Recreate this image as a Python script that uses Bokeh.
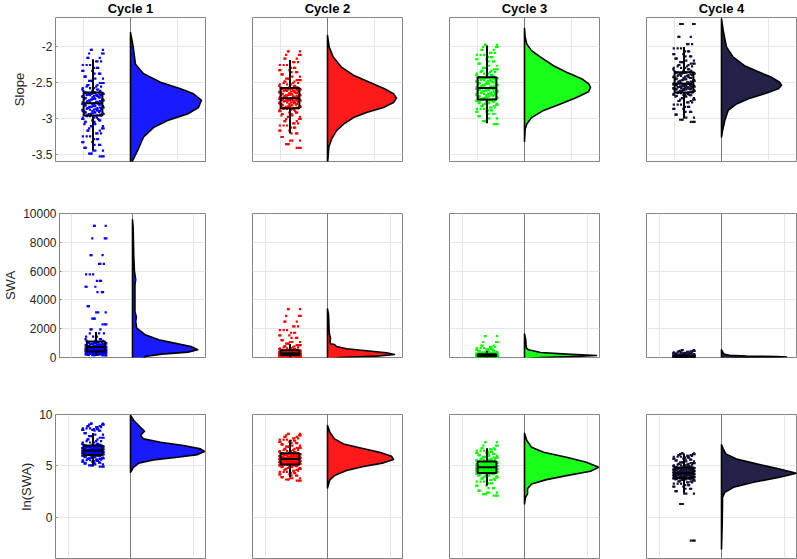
import numpy as np
from bokeh.plotting import figure
from bokeh.layouts import column, row
from bokeh.models import Range1d, FixedTicker, Grid, Span, LinearAxis, NumeralTickFormatter
from bokeh.core.properties import value
from bokeh.embed import file_html
from bokeh.resources import INLINE

# ---------------- data ----------------
CYCLES = ["Cycle 1", "Cycle 2", "Cycle 3", "Cycle 4"]
ROW_LABELS = ["Slope", "SWA", "ln(SWA)"]

SCATTER_COLORS = ["#0000ff", "#ff0000", "#00ff00", "#121238"]
FILL_COLORS = ["#1a1aff", "#ff1a1a", "#1aff1a", "#222249"]

# Y ticks per row
SLOPE_TICKS = [-3.5, -3, -2.5, -2]
SWA_TICKS = [0, 2000, 4000, 6000, 8000, 10000]
LN_TICKS = [0, 5, 10]

# Individual observations: spectral slope per cycle
SLOPE_C1 = [-3.53, -3.49, -3.45, -3.41, -3.37, -3.33, -3.29, -3.25, -3.21, -3.17, -3.14, -3.11, -3.08, -3.05, -3.03, -3.01, -2.99, -2.97,
            -2.96, -2.95, -2.94, -2.93, -2.92, -2.91, -2.90, -2.89, -2.88, -2.87, -2.86, -2.85, -2.84, -2.83, -2.82, -2.81, -2.80, -2.79,
            -2.78, -2.77, -2.76, -2.75, -2.74, -2.73, -2.72, -2.71, -2.70, -2.69, -2.68, -2.675, -2.67, -2.66, -2.655, -2.65, -2.64,
            -2.62, -2.60, -2.58, -2.56, -2.54, -2.51, -2.48, -2.45, -2.42, -2.38, -2.34, -2.30, -2.26, -2.21, -2.16, -2.10, -2.05]
SLOPE_C2 = [-3.41, -3.36, -3.31, -3.26, -3.21, -3.17, -3.13, -3.10, -3.07, -3.04, -3.01, -2.98, -2.96, -2.94, -2.92, -2.90, -2.88, -2.87,
            -2.86, -2.85, -2.84, -2.83, -2.82, -2.81, -2.80, -2.79, -2.78, -2.77, -2.76, -2.755, -2.75, -2.745, -2.74, -2.735, -2.73, -2.72,
            -2.71, -2.70, -2.69, -2.68, -2.675, -2.67, -2.66, -2.65, -2.64, -2.63, -2.62, -2.615, -2.61, -2.60, -2.595, -2.59, -2.58,
            -2.57, -2.55, -2.53, -2.51, -2.49, -2.47, -2.45, -2.42, -2.39, -2.36, -2.33, -2.30, -2.26, -2.22, -2.17, -2.12, -2.07]
SLOPE_C3 = [-3.08, -3.04, -3.00, -2.97, -2.94, -2.91, -2.89, -2.87, -2.85, -2.83, -2.81, -2.80, -2.79, -2.78, -2.77, -2.76, -2.75, -2.745,
            -2.74, -2.73, -2.72, -2.71, -2.70, -2.69, -2.68, -2.67, -2.66, -2.65, -2.64, -2.63, -2.62, -2.61, -2.605, -2.60, -2.59, -2.58,
            -2.57, -2.56, -2.55, -2.54, -2.53, -2.52, -2.51, -2.50, -2.49, -2.48, -2.47, -2.46, -2.45, -2.445, -2.44, -2.435, -2.43,
            -2.42, -2.40, -2.38, -2.36, -2.34, -2.32, -2.30, -2.27, -2.24, -2.21, -2.18, -2.15, -2.12, -2.09, -2.05, -2.01, -1.98]
SLOPE_C4 = [-3.05, -3.02, -2.99, -2.95, -2.91, -2.87, -2.84, -2.81, -2.78, -2.76, -2.74, -2.72, -2.70, -2.69, -2.68, -2.67, -2.66, -2.65,
            -2.64, -2.63, -2.62, -2.61, -2.60, -2.595, -2.59, -2.585, -2.58, -2.57, -2.565, -2.56, -2.555, -2.55, -2.54, -2.535, -2.53, -2.52,
            -2.51, -2.50, -2.49, -2.48, -2.47, -2.46, -2.45, -2.44, -2.43, -2.42, -2.41, -2.40, -2.39, -2.38, -2.37, -2.365, -2.36,
            -2.34, -2.32, -2.30, -2.28, -2.26, -2.24, -2.22, -2.20, -2.17, -2.14, -2.11, -2.07, -2.03, -1.97, -1.87, -1.69, -1.69]

# Individual observations: ln(SWA) per cycle (SWA row = exp of these)
LNSWA_C1 = [4.94, 5.05, 5.15, 5.25, 5.33, 5.41, 5.48, 5.55, 5.62, 5.68, 5.74, 5.80, 5.85, 5.90, 5.95, 5.99, 6.03, 6.06,
            6.08, 6.10, 6.13, 6.15, 6.18, 6.20, 6.23, 6.25, 6.28, 6.30, 6.33, 6.35, 6.38, 6.40, 6.42, 6.44, 6.46, 6.49,
            6.52, 6.55, 6.57, 6.60, 6.62, 6.65, 6.68, 6.70, 6.73, 6.76, 6.79, 6.82, 6.85, 6.88, 6.91, 6.94, 6.97,
            7.05, 7.15, 7.28, 7.42, 7.58, 7.74, 7.90, 8.05, 8.18, 8.42, 8.50, 8.58, 8.66, 8.78, 8.87, 9.02, 9.12]
LNSWA_C2 = [3.57, 3.68, 3.80, 3.92, 4.05, 4.18, 4.30, 4.42, 4.53, 4.63, 4.72, 4.80, 4.87, 4.93, 4.99, 5.04, 5.08, 5.12,
            5.15, 5.18, 5.21, 5.24, 5.27, 5.30, 5.33, 5.36, 5.39, 5.42, 5.45, 5.48, 5.51, 5.54, 5.57, 5.60, 5.63, 5.66,
            5.70, 5.73, 5.76, 5.79, 5.82, 5.85, 5.88, 5.91, 5.94, 5.97, 6.00, 6.04, 6.08, 6.12, 6.16, 6.19, 6.22,
            6.28, 6.36, 6.45, 6.55, 6.65, 6.76, 6.87, 6.98, 7.10, 7.22, 7.34, 7.45, 7.55, 7.68, 7.82, 7.97, 8.12]
LNSWA_C3 = [2.11, 2.25, 2.40, 2.60, 2.85, 3.09, 3.30, 3.48, 3.63, 3.76, 3.88, 3.98, 4.06, 4.13, 4.19, 4.24, 4.28, 4.31,
            4.34, 4.37, 4.40, 4.43, 4.46, 4.49, 4.52, 4.55, 4.58, 4.61, 4.64, 4.67, 4.70, 4.73, 4.76, 4.79, 4.82, 4.85,
            4.89, 4.92, 4.95, 4.98, 5.01, 5.04, 5.07, 5.10, 5.13, 5.16, 5.19, 5.22, 5.25, 5.29, 5.33, 5.37, 5.41,
            5.46, 5.52, 5.58, 5.65, 5.72, 5.80, 5.88, 5.97, 6.06, 6.16, 6.26, 6.37, 6.48, 6.60, 6.72, 6.98, 7.30]
LNSWA_C4 = [-2.27, 1.30, 2.30, 2.55, 2.78, 2.98, 3.14, 3.28, 3.40, 3.50, 3.58, 3.64, 3.69, 3.73, 3.76, 3.79, 3.81, 3.83,
            3.86, 3.89, 3.92, 3.95, 3.98, 4.01, 4.04, 4.07, 4.10, 4.13, 4.16, 4.19, 4.22, 4.25, 4.28, 4.31, 4.34, 4.37,
            4.40, 4.43, 4.46, 4.49, 4.52, 4.55, 4.58, 4.61, 4.64, 4.67, 4.70, 4.73, 4.76, 4.79, 4.82, 4.85, 4.88,
            4.93, 4.99, 5.05, 5.12, 5.19, 5.27, 5.35, 5.44, 5.53, 5.62, 5.71, 5.80, 5.89, 5.97, 6.05, 6.14, 6.23]

# Box statistics [lower whisker, Q1, median, Q3, upper whisker]
SLOPE_BOX = [[-3.44, -2.96, -2.79, -2.64, -2.18], [-3.21, -2.86, -2.72, -2.58, -2.19],
             [-3.07, -2.74, -2.58, -2.43, -1.99], [-2.99, -2.64, -2.52, -2.36, -2.01]]
SWA_BOX = [[140, 418, 724, 1113, 1768], [35, 169, 293, 508, 930],
           [8, 75, 130, 226, 450], [10, 45, 74, 128, 250]]
LN_BOX = [[4.94, 6.07, 6.50, 6.98, 8.18], [3.90, 5.13, 5.68, 6.23, 7.54],
          [3.09, 4.32, 4.87, 5.42, 6.72], [2.40, 3.80, 4.30, 4.85, 6.20]]

# Density curves (value grid, density)
SLOPE_DEN_Y = [[-1.81, -2.01, -2.25, -2.38, -2.50, -2.59, -2.66, -2.75, -2.85, -2.94, -3.03, -3.13, -3.26, -3.45, -3.59, -3.75],
               [-1.85, -2.01, -2.15, -2.29, -2.41, -2.50, -2.59, -2.66, -2.72, -2.78, -2.85, -2.92, -2.99, -3.08, -3.17, -3.29, -3.40, -3.59, -3.70],
               [-1.75, -1.87, -1.97, -2.06, -2.15, -2.27, -2.36, -2.45, -2.52, -2.57, -2.63, -2.71, -2.80, -2.89, -2.99, -3.08, -3.15, -3.32],
               [-1.62, -1.78, -2.01, -2.15, -2.27, -2.36, -2.43, -2.50, -2.54, -2.59, -2.66, -2.73, -2.80, -2.89, -3.03, -3.17, -3.26]]
SLOPE_DEN = [[0, 0.029, 0.053, 0.139, 0.32, 0.533, 0.672, 0.757, 0.725, 0.608, 0.395, 0.245, 0.139, 0.075, 0.021, 0],
             [0, 0.018, 0.061, 0.149, 0.288, 0.448, 0.608, 0.704, 0.736, 0.704, 0.597, 0.416, 0.277, 0.171, 0.096, 0.043, 0.014, 0.003, 0],
             [0, 0.007, 0.025, 0.075, 0.171, 0.309, 0.448, 0.608, 0.683, 0.704, 0.683, 0.555, 0.384, 0.203, 0.075, 0.025, 0.007, 0],
             [0, 0.018, 0.053, 0.125, 0.245, 0.405, 0.533, 0.619, 0.64, 0.608, 0.459, 0.288, 0.16, 0.071, 0.035, 0.011, 0]]
SWA_DEN_Y = [[-400, -150, 0, 70, 235, 375, 535, 765, 1000, 1230, 1580, 2045, 2500, 2800, 3200, 4000, 5000, 5400, 6000, 7000, 8000, 9000, 9570],
             [-150, 0, 97, 209, 327, 466, 605, 765, 900, 960, 1100, 1350, 1600, 2000, 2500, 3000, 3370],
             [-100, 0, 70, 140, 235, 350, 535, 655, 900, 1200, 1630],
             [-60, 0, 30, 60, 100, 150, 235, 400, 535]]
SWA_DEN = [[0, 0.128, 0.208, 0.208, 0.48, 0.912, 1.072, 0.96, 0.688, 0.432, 0.208, 0.069, 0.053, 0.064, 0.04, 0.04, 0.04, 0.053, 0.032, 0.021, 0.016, 0.011, 0],
           [0, 0.192, 0.784, 1.072, 0.944, 0.624, 0.304, 0.144, 0.112, 0.048, 0.04, 0.048, 0.032, 0.024, 0.021, 0.016, 0],
           [0, 0.256, 0.8, 1.152, 0.672, 0.256, 0.064, 0.032, 0.024, 0.021, 0],
           [0, 0.64, 1.04, 0.88, 0.4, 0.128, 0.04, 0.016, 0]]
LN_DEN_Y = [[4.38, 4.87, 5.26, 5.59, 5.84, 6.10, 6.40, 6.66, 6.98, 7.30, 7.63, 7.96, 8.37, 8.76, 9.42, 9.90],
            [2.86, 3.64, 4.06, 4.55, 4.94, 5.30, 5.62, 5.94, 6.33, 6.76, 7.14, 7.63, 8.28, 8.93],
            [1.30, 1.95, 2.28, 2.77, 3.25, 3.67, 4.06, 4.48, 4.87, 5.36, 5.84, 6.33, 6.82, 7.47, 8.18],
            [-3.07, -0.64, 1.30, 1.95, 2.43, 2.92, 3.41, 3.90, 4.28, 4.71, 5.20, 5.68, 6.17, 6.66, 7.05]]
LN_DEN = [[0, 0.048, 0.128, 0.368, 0.752, 1.072, 1.184, 1.12, 0.848, 0.48, 0.208, 0.16, 0.224, 0.16, 0.053, 0],
          [0, 0.037, 0.112, 0.304, 0.576, 0.896, 1.056, 1.024, 0.832, 0.512, 0.256, 0.112, 0.037, 0],
          [0, 0.016, 0.048, 0.048, 0.112, 0.352, 0.672, 1.056, 1.184, 0.992, 0.672, 0.304, 0.112, 0.037, 0],
          [0, 0.011, 0.016, 0.016, 0.053, 0.192, 0.512, 0.928, 1.2, 0.928, 0.56, 0.24, 0.069, 0.027, 0]]

# fixed jitter pattern (relative offsets inside the rain column)
JITTER = [0.62, -0.35, 0.91, -0.78, 0.14, -0.06, 0.47, -0.93, 0.29, -0.51, 0.83, -0.19, 0.02, -0.67, 0.55,
          -0.88, 0.36, -0.27, 0.74, -0.42, 0.97, -0.12, 0.21, -0.71, 0.66, -0.98, 0.09, -0.58, 0.41]
JITTER_SHIFTS = [0, 10, 20]

# ---------------- layout / style ----------------
FONT = "Liberation Sans"
FRAME_COLOR = "#858585"
GRID_COLOR = "#e6e6e6"
TEXT_COLOR = "#262626"

ROW_CFG = [
    dict(vals=[SLOPE_C1, SLOPE_C2, SLOPE_C3, SLOPE_C4], box=SLOPE_BOX, dy=SLOPE_DEN_Y, d=SLOPE_DEN,
         yr=(-3.6, -1.6), yt=SLOPE_TICKS, half=0.8, xt=[-0.5, 0.5]),
    dict(vals=[list(np.exp(v)) for v in [LNSWA_C1, LNSWA_C2, LNSWA_C3, LNSWA_C4]], box=SWA_BOX, dy=SWA_DEN_Y, d=SWA_DEN,
         yr=(0, 10000), yt=SWA_TICKS, half=1.2, xt=[-1, 1]),
    dict(vals=[LNSWA_C1, LNSWA_C2, LNSWA_C3, LNSWA_C4], box=LN_BOX, dy=LN_DEN_Y, d=LN_DEN,
         yr=(-4, 10), yt=LN_TICKS, half=1.2, xt=[-1, 1]),
]
TITLE_H = 16
ROW_BORDERS = [(1, 45), (7, 50), (7, 1)]   # (top, bottom) px
COL_BORDERS = [(55, 2), (45, 2), (45, 2), (45, 1)]  # (left, right) px
FRAME_H = 144
FRAME_W = 150


def base_fig(width, height, xr, yr, left, right, top, bottom):
    p = figure(width=width, height=height, x_range=Range1d(*xr), y_range=Range1d(*yr),
               x_axis_location=None, y_axis_location=None,
               output_backend="svg", toolbar_location=None, title=None,
               min_border_left=left, min_border_right=right,
               min_border_top=top, min_border_bottom=bottom)
    p.center = []          # drop the default (axis-less) grids
    p.background_fill_color = "white"
    p.border_fill_color = "white"
    return p


def make_title(c):
    left, right = COL_BORDERS[c]
    p = base_fig(left + FRAME_W + right, TITLE_H, (-1, 1), (0, TITLE_H), left, right, 0, 0)
    p.outline_line_color = None
    p.text(x=[0], y=[TITLE_H / 2], text=[CYCLES[c]], text_align="center",
           text_baseline="middle", text_font=value(FONT), text_font_size="13px",
           text_font_style="bold", text_color="black")
    return p


def make_fig(r, c):
    cfg = ROW_CFG[r]
    top, bottom = ROW_BORDERS[r]
    left, right = COL_BORDERS[c]
    half = cfg["half"]
    p = base_fig(left + FRAME_W + right, top + FRAME_H + bottom, (-half, half), cfg["yr"],
                 left, right, top, bottom)
    p.outline_line_color = FRAME_COLOR
    p.outline_line_width = 1

    p.add_layout(Grid(dimension=1, ticker=FixedTicker(ticks=cfg["yt"]),
                      grid_line_color=GRID_COLOR, grid_line_width=1))
    p.add_layout(Grid(dimension=0, ticker=FixedTicker(ticks=cfg["xt"]),
                      grid_line_color=GRID_COLOR, grid_line_width=1))
    p.add_layout(Span(location=0, dimension="height", line_color="#7a7a7a",
                      line_width=1, level="underlay"))

    if c == 0:
        ax = LinearAxis(ticker=FixedTicker(ticks=cfg["yt"]),
                        formatter=NumeralTickFormatter(format="0.[0]"))
        ax.axis_label = ROW_LABELS[r]
        ax.axis_label_text_font = FONT
        ax.axis_label_text_font_size = "13px"
        ax.axis_label_text_font_style = "normal"
        ax.axis_label_text_color = TEXT_COLOR
        ax.axis_label_standoff = 2
        ax.major_label_text_font = FONT
        ax.major_label_text_font_size = "12px"
        ax.major_label_text_color = TEXT_COLOR
        ax.major_label_standoff = 3
        ax.major_tick_in = 2
        ax.major_tick_out = 0
        ax.major_tick_line_color = FRAME_COLOR
        ax.minor_tick_line_color = None
        ax.axis_line_color = None
        p.add_layout(ax, "left")

    # cloud (density)
    p.patch(cfg["d"][c], cfg["dy"][c], fill_color=FILL_COLORS[c], fill_alpha=1.0,
            line_color="black", line_width=1.6, line_join="round")

    # rain (jittered observations)
    vals = list(cfg["vals"][c])
    cx = -0.5 * half
    js = 0.146 * half
    n = len(JITTER)
    xs, ys = [], []
    for s in JITTER_SHIFTS:
        xs += [cx + js * JITTER[(i + s) % n] for i in range(len(vals))]
        ys += vals
    p.scatter(xs, ys, marker="square", size=2.2, fill_color=SCATTER_COLORS[c],
              line_color=None)

    # box plot
    lo, q1, med, q3, hi = cfg["box"][c]
    bw = 0.125 * half
    p.segment([cx, cx], [q3, q1], [cx, cx], [hi, lo], line_color="black", line_width=2)
    p.quad(left=[cx - bw], right=[cx + bw], bottom=[q1], top=[q3],
           fill_color=None, line_color="black", line_width=2)
    p.segment([cx - bw], [med], [cx + bw], [med], line_color="black", line_width=2)
    return p


rows = [row(*[make_title(c) for c in range(4)])]
for r in range(3):
    rows.append(row(*[make_fig(r, c) for c in range(4)]))
layout = column(*rows)

open("out.html", "w").write(file_html(layout, INLINE))
